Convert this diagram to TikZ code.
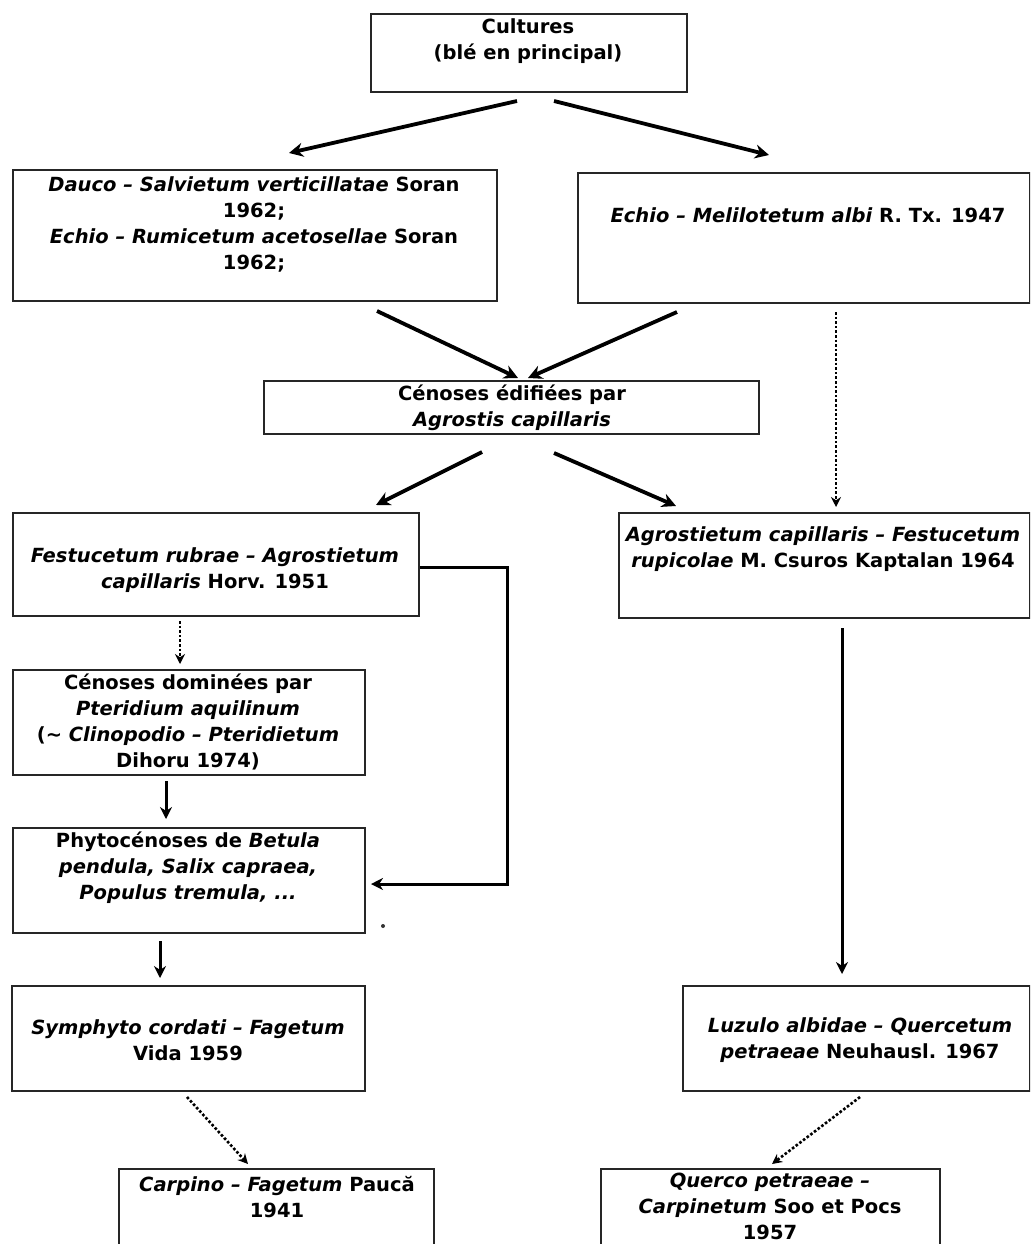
\documentclass[tikz,border=0pt]{standalone}
\usepackage{fontspec}
\setmainfont{DejaVu Sans}
\usetikzlibrary{arrows.meta,calc}
\tikzset{
  box/.style={draw=black!85, line width=1.9pt, inner sep=0pt, anchor=north west},
  lbl/.style={font=\bfseries\fontsize{19.5}{26}\selectfont, align=center, inner sep=0pt, text=black},
  arr/.style={line width=3.8pt, -{Stealth[length=14pt,width=14pt]}},
  sarr/.style={line width=3pt, -{Stealth[length=12pt,width=12pt]}},
  dotarr/.style={line width=2.6pt, dotted, -{Stealth[length=10pt,width=10pt]}}
}
\begin{document}
\begin{tikzpicture}[x=1pt,y=-1pt]
\clip (0,0) rectangle (1030,1244);
\fill[white] (0,0) rectangle (1030,1244);

% boxes
\node[box, minimum width=316pt, minimum height=78pt]  (cult)  at (370,13)  {};
\node[box, minimum width=484pt, minimum height=131pt] (dauco) at (12,169)  {};
\node[box, minimum width=452pt, minimum height=130pt] (echio) at (577,172) {};
\node[box, minimum width=495pt, minimum height=53pt]  (ceno)  at (263,380) {};
\node[box, minimum width=406pt, minimum height=103pt] (fest)  at (12,512)  {};
\node[box, minimum width=411pt, minimum height=105pt] (agro)  at (618,512) {};
\node[box, minimum width=352pt, minimum height=105pt] (dom)   at (12,669)  {};
\node[box, minimum width=352pt, minimum height=105pt] (phyto) at (12,827)  {};
\node[box, minimum width=353pt, minimum height=105pt] (symph) at (11,985)  {};
\node[box, minimum width=347pt, minimum height=105pt] (luzu)  at (682,985) {};
\node[box, minimum width=315pt, minimum height=100pt] (carp)  at (118,1168) {};
\node[box, minimum width=339pt, minimum height=100pt] (quer)  at (600,1168) {};

% texts
\node[lbl] (tcult) at (528,41) {Cultures\\(blé en principal)};
\node[lbl] (tdauco) at (254,224) {\textit{Dauco – Salvietum verticillatae} Soran\\1962;\\\textit{Echio – Rumicetum acetosellae} Soran\\1962;};
\node[lbl] (techio) at (808,215) {\textit{Echio – Melilotetum albi} R. Tx. 1947};
\node[lbl] (tceno) at (512,408) {Cénoses édifiées par\\\textit{Agrostis capillaris}};
\node[lbl] (tfest) at (215,570) {\textit{Festucetum rubrae – Agrostietum}\\\textit{capillaris} Horv. 1951};
\node[lbl] (tagro) at (823,549) {\textit{Agrostietum capillaris – Festucetum}\\\textit{rupicolae} M. Csuros Kaptalan 1964};
\node[lbl] (tdom) at (188,722) {Cénoses dominées par\\\textit{Pteridium aquilinum}\\(\textasciitilde{} \textit{Clinopodio – Pteridietum}\\Dihoru 1974)};
\node[lbl] (tphyto) at (188,868) {Phytocénoses de \textit{Betula}\\\textit{pendula, Salix capraea,}\\\textit{Populus tremula, ...}};
\node[lbl] (tsymph) at (188,1040) {\textit{Symphyto cordati – Fagetum}\\Vida 1959};
\node[lbl] (tluzu) at (860,1040) {\textit{Luzulo albidae – Quercetum}\\\textit{petraeae} Neuhausl. 1967};
\node[lbl] (tcarp) at (277,1197) {\textit{Carpino – Fagetum} Paucă\\1941};
\node[lbl] (tquer) at (770,1206) {\textit{Querco petraeae –}\\\textit{Carpinetum} Soo et Pocs\\1957};

% connector end points
\coordinate (a1s) at (517,101); \coordinate (a1e) at (289,153);
\coordinate (a2s) at (554,101); \coordinate (a2e) at (769,155);
\coordinate (a3s) at (377,311); \coordinate (a3e) at (518,378);
\coordinate (a4s) at (677,312); \coordinate (a4e) at (528,378);
\coordinate (a5s) at (836,312); \coordinate (a5e) at (836,507);
\coordinate (a6s) at (482,452); \coordinate (a6e) at (376,505);
\coordinate (a7s) at (554,453); \coordinate (a7e) at (676,506);
\coordinate (a8s) at (180,621); \coordinate (a8e) at (180,664);
\coordinate (a9s) at (166,781); \coordinate (a9e) at (166,819);
\coordinate (b1) at (507,567);  \coordinate (b2) at (507,884); \coordinate (b3) at (371,884);
\coordinate (a10s) at (160,941); \coordinate (a10e) at (160,978);
\coordinate (a11s) at (842,628); \coordinate (a11e) at (842,974);
\coordinate (a12s) at (187,1097); \coordinate (a12e) at (248,1164);
\coordinate (a13s) at (860,1097); \coordinate (a13e) at (772,1164);

% connectors
\draw[arr] (a1s) -- (a1e);
\draw[arr] (a2s) -- (a2e);
\draw[arr] (a3s) -- (a3e);
\draw[arr] (a4s) -- (a4e);
\draw[dotarr] (a5s) -- (a5e);
\draw[arr] (a6s) -- (a6e);
\draw[arr] (a7s) -- (a7e);
\draw[dotarr] (a8s) -- (a8e);
\draw[sarr] (a9s) -- (a9e);
\draw[sarr] (fest.east |- b1) -- (b1) -- (b2) -- (b3);
\draw[sarr] (a10s) -- (a10e);
\draw[sarr] (a11s) -- (a11e);
\draw[dotarr] (a12s) -- (a12e);
\draw[dotarr] (a13s) -- (a13e);

% stray mark
\fill[black!80] (383,926) circle (2pt);
\end{tikzpicture}
\end{document}
